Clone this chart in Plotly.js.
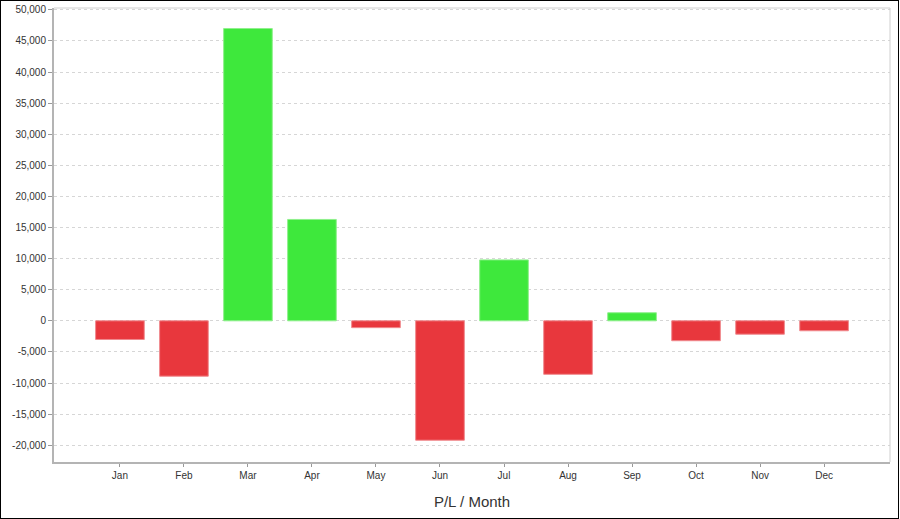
<!DOCTYPE html>
<html>
<head>
<meta charset="utf-8">
<script src="https://cdn.plot.ly/plotly-3.0.1.min.js"></script>
<style>
html,body{margin:0;padding:0;background:#fff;}
#wrap{position:relative;width:900px;height:519px;}
#chart{width:900px;height:519px;}
#frame{position:absolute;left:0;top:0;width:899px;height:519px;box-sizing:border-box;border:1.5px solid #000;pointer-events:none;}
</style>
</head>
<body>
<div id="wrap"><div id="chart"></div><div id="frame"></div></div>
<script>
var months = ["Jan","Feb","Mar","Apr","May","Jun","Jul","Aug","Sep","Oct","Nov","Dec"];
var pl = [-3000, -8900, 47000, 16300, -1100, -19200, 9800, -8600, 1300, -3200, -2150, -1600];
var yTicks = [-20000,-15000,-10000,-5000,0,5000,10000,15000,20000,25000,30000,35000,40000,45000,50000];

var green = "#3ee83c", red = "#e8373d";
var greenEdge = "#8ff08c", redEdge = "#f08a8e";

var trace = {
  type: "bar",
  x: months.map(function(m, i){ return i; }),
  y: pl,
  width: 0.76,
  marker: {
    color: pl.map(function(v){ return v >= 0 ? green : red; }),
    line: {color: pl.map(function(v){ return v >= 0 ? greenEdge : redEdge; }), width: 1}
  },
  hoverinfo: "x+y"
};

var layout = {
  width: 900, height: 519,
  margin: {l: 54, r: 10, t: 8, b: 57},
  paper_bgcolor: "#fff", plot_bgcolor: "#fff",
  showlegend: false,
  font: {family: "Liberation Sans, Arial, sans-serif", size: 10, color: "#333"},
  bargap: 0.24,
  xaxis: {
    range: [-1.03, 12.03],
    tickmode: "array",
    tickvals: months.map(function(m, i){ return i; }),
    ticktext: months,
    ticks: "outside", ticklen: 3, tickcolor: "#999", tickwidth: 1,
    showgrid: false, zeroline: false,
    showline: true, linecolor: "#b4b4b4", linewidth: 2,
    tickfont: {size: 10, color: "#333"},
    title: {text: "P/L / Month", font: {size: 15, color: "#333"}, standoff: 16}
  },
  yaxis: {
    range: [-22700, 50300],
    tickmode: "array",
    tickvals: yTicks,
    ticktext: yTicks.map(function(v){ return v.toLocaleString("en-US"); }),
    ticks: "outside", ticklen: 4, tickcolor: "#999", tickwidth: 1,
    showgrid: true, gridcolor: "#d6d6d6", griddash: "3px,3px", gridwidth: 1,
    zeroline: false,
    showline: true, linecolor: "#b4b4b4", linewidth: 2,
    tickfont: {size: 10, color: "#333"}
  },
  shapes: [
    {type: "line", xref: "paper", yref: "paper", x0: 0, x1: 1, y0: 1, y1: 1, line: {color: "#cfcfcf", width: 1}},
    {type: "line", xref: "paper", yref: "paper", x0: 1, x1: 1, y0: 0, y1: 1, line: {color: "#cfcfcf", width: 1}}
  ]
};

Plotly.newPlot("chart", [trace], layout, {displayModeBar: false, staticPlot: true});
</script>
</body>
</html>
